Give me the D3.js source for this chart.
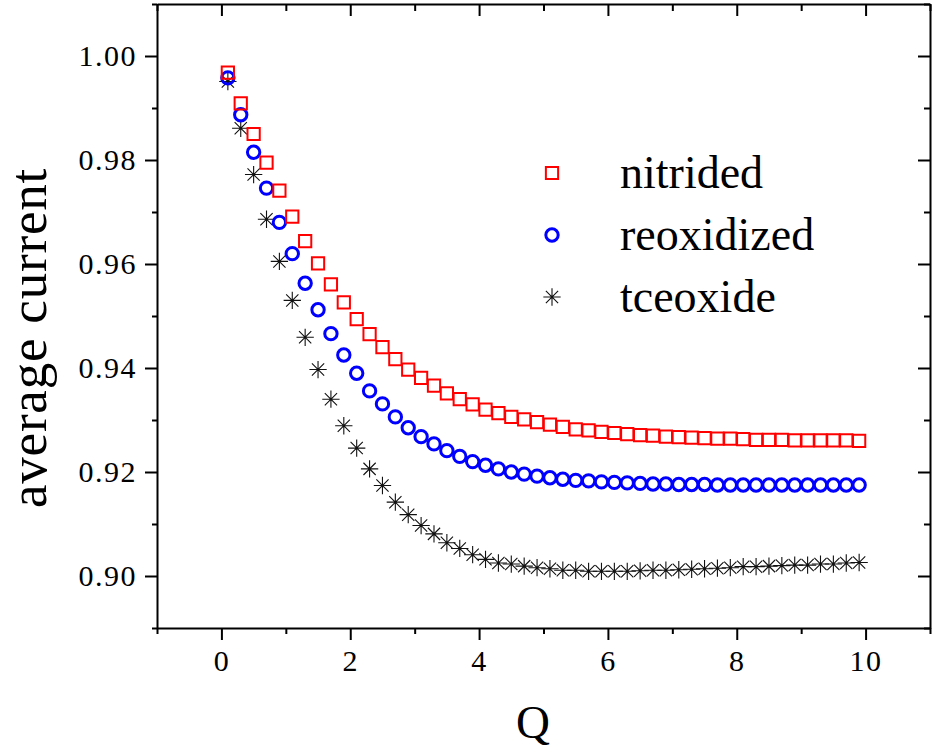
<!DOCTYPE html>
<html>
<head>
<meta charset="utf-8">
<script src="https://cdn.jsdelivr.net/npm/d3@7"></script>
<style>
  body { margin: 0; background: #fff; }
  svg text { font-family: "Liberation Serif", "Times New Roman", serif; fill: #000; }
</style>
</head>
<body>
<div id="chart"></div>
<script>
// Q values 0.1 .. 9.9, step 0.2
const qValues = [0.1, 0.3, 0.5, 0.7, 0.9, 1.1, 1.3, 1.5, 1.7, 1.9,
  2.1, 2.3, 2.5, 2.7, 2.9, 3.1, 3.3, 3.5, 3.7, 3.9,
  4.1, 4.3, 4.5, 4.7, 4.9, 5.1, 5.3, 5.5, 5.7, 5.9,
  6.1, 6.3, 6.5, 6.7, 6.9, 7.1, 7.3, 7.5, 7.7, 7.9,
  8.1, 8.3, 8.5, 8.7, 8.9, 9.1, 9.3, 9.5, 9.7, 9.9];

const nitrided = [0.9968, 0.9909, 0.9850, 0.9795, 0.9741, 0.9691, 0.9644, 0.9601, 0.9561, 0.9526,
  0.9494, 0.9465, 0.9440, 0.9417, 0.9397, 0.9381, 0.9366, 0.9351, 0.9340, 0.9330,
  0.9320, 0.9313, 0.9306, 0.9301, 0.9296, 0.9291, 0.9287, 0.9282, 0.9280, 0.9277,
  0.9275, 0.9273, 0.9271, 0.9270, 0.9268, 0.9267, 0.9266, 0.9265, 0.9264, 0.9264,
  0.9263, 0.9262, 0.9262, 0.9262, 0.9261, 0.9261, 0.9261, 0.9261, 0.9261, 0.9260];

const reoxidized = [0.9958, 0.9887, 0.9815, 0.9746, 0.9680, 0.9620, 0.9563, 0.9512, 0.9466, 0.9425,
  0.9390, 0.9356, 0.9331, 0.9306, 0.9285, 0.9268, 0.9254, 0.9241, 0.9230, 0.9220,
  0.9213, 0.9206, 0.9200, 0.9196, 0.9192, 0.9189, 0.9186, 0.9184, 0.9183, 0.9181,
  0.9180, 0.9179, 0.9178, 0.9177, 0.9177, 0.9176, 0.9176, 0.9176, 0.9175, 0.9175,
  0.9175, 0.9175, 0.9175, 0.9175, 0.9175, 0.9175, 0.9175, 0.9175, 0.9175, 0.9175];

const tceoxide = [0.9951, 0.9861, 0.9772, 0.9686, 0.9605, 0.9530, 0.9459, 0.9397, 0.9340, 0.9289,
  0.9246, 0.9206, 0.9174, 0.9142, 0.9118, 0.9097, 0.9081, 0.9064, 0.9053, 0.9041,
  0.9032, 0.9025, 0.9023, 0.9019, 0.9016, 0.9014, 0.9011, 0.9011, 0.9009, 0.9009,
  0.9009, 0.9009, 0.9010, 0.9011, 0.9011, 0.9012, 0.9013, 0.9014, 0.9015, 0.9016,
  0.9018, 0.9018, 0.9019, 0.9020, 0.9021, 0.9021, 0.9023, 0.9023, 0.9025, 0.9026];

const seriesNames = ["nitrided", "reoxidized", "tceoxide"];
const xMajorTicks = [0, 2, 4, 6, 8, 10];
const xMinorTicks = [-1, 1, 3, 5, 7, 9, 11];
const yMajorTicks = [0.90, 0.92, 0.94, 0.96, 0.98, 1.00];
const yMinorTicks = [0.89, 0.91, 0.93, 0.95, 0.97, 0.99, 1.01];

const width = 932, height = 756;
const plotLeft = 157, plotRight = 930, plotTop = 4, plotBottom = 628;

const svg = d3.select("#chart").append("svg")
    .attr("width", width)
    .attr("height", height);

const x = d3.scaleLinear().domain([-1, 11]).range([plotLeft, plotRight]);
const y = d3.scaleLinear().domain([0.89, 1.01]).range([plotBottom, plotTop]);

// asterisk symbol: 4 crossing strokes
const asterisk = {
  draw(ctx, size) {
    const r = Math.sqrt(size) / 2;
    const d = r * Math.SQRT1_2;
    ctx.moveTo(-r, 0); ctx.lineTo(r, 0);
    ctx.moveTo(0, -r); ctx.lineTo(0, r);
    ctx.moveTo(-d, -d); ctx.lineTo(d, d);
    ctx.moveTo(-d, d); ctx.lineTo(d, -d);
  }
};

const styles = {
  nitrided: {type: d3.symbolSquare, size: 150, stroke: "#ff0000", width: 2},
  reoxidized: {type: d3.symbolCircle, size: 120, stroke: "#0000ff", width: 3},
  tceoxide: {type: asterisk, size: 300, stroke: "#111", width: 1.1}
};

const seriesData = {
  nitrided: qValues.map((q, i) => ({q, v: nitrided[i]})),
  reoxidized: qValues.map((q, i) => ({q, v: reoxidized[i]})),
  tceoxide: qValues.map((q, i) => ({q, v: tceoxide[i]}))
};

seriesNames.slice().reverse().forEach(name => {
  const s = styles[name];
  svg.append("g").selectAll("path")
      .data(seriesData[name])
      .enter().append("path")
      .attr("transform", d => `translate(${x(d.q)},${y(d.v)})`)
      .attr("d", d3.symbol().type(s.type).size(s.size))
      .attr("fill", "none")
      .attr("stroke", s.stroke)
      .attr("stroke-width", s.width);
});

// axes
function styleAxis(g) {
  g.selectAll("path, line").attr("stroke", "#000").attr("stroke-width", 2);
  g.selectAll("text").attr("font-size", 30).attr("letter-spacing", 1.5)
    .style("font-family", "'Liberation Serif', serif");
}

svg.append("g")
    .attr("transform", `translate(0,${plotBottom})`)
    .call(d3.axisBottom(x).tickValues(xMinorTicks).tickSize(6).tickFormat("").tickSizeOuter(0))
    .call(styleAxis);
svg.append("g")
    .attr("transform", `translate(0,${plotBottom})`)
    .call(d3.axisBottom(x).tickValues(xMajorTicks).tickSize(12).tickPadding(10).tickFormat(d3.format("d")))
    .call(styleAxis)
    .call(g => g.select(".domain").remove());

svg.append("g")
    .attr("transform", `translate(0,${plotTop})`)
    .call(d3.axisBottom(x).tickValues(xMinorTicks.concat(xMajorTicks)).tickSizeOuter(0)
      .tickSize(0).tickFormat(""))
    .call(styleAxis)
    .call(g => g.selectAll(".tick line").attr("y2", d => xMajorTicks.includes(d) ? 12 : 7));

svg.append("g")
    .attr("transform", `translate(${plotLeft},0)`)
    .call(d3.axisLeft(y).tickValues(yMinorTicks).tickSize(5).tickFormat("").tickSizeOuter(0))
    .call(styleAxis);
svg.append("g")
    .attr("transform", `translate(${plotLeft},0)`)
    .call(d3.axisLeft(y).tickValues(yMajorTicks).tickSize(12).tickPadding(8).tickFormat(d3.format(".2f")))
    .call(styleAxis)
    .call(g => g.select(".domain").remove());

svg.append("g")
    .attr("transform", `translate(${plotRight},0)`)
    .call(d3.axisLeft(y).tickValues(yMinorTicks.concat(yMajorTicks)).tickSize(0).tickFormat("").tickSizeOuter(0))
    .call(styleAxis)
    .call(g => g.selectAll(".tick line").attr("x2", d => yMajorTicks.includes(d) ? -12 : -6));

// axis titles
svg.append("text")
    .attr("x", 533)
    .attr("y", 738)
    .attr("text-anchor", "middle")
    .attr("font-size", 47)
    .text("Q");

svg.append("text")
    .attr("transform", "translate(46,338) rotate(-90)")
    .attr("text-anchor", "middle")
    .attr("font-size", 53)
    .attr("letter-spacing", 0.8)
    .text("average current");

// legend
const legendY = [173, 235, 297];
const legend = svg.append("g");
seriesNames.forEach((name, i) => {
  const s = styles[name];
  legend.append("path")
      .attr("transform", `translate(552,${legendY[i]})`)
      .attr("d", d3.symbol().type(s.type).size(s.size))
      .attr("fill", "none")
      .attr("stroke", s.stroke)
      .attr("stroke-width", s.width);
  legend.append("text")
      .attr("x", 620)
      .attr("y", legendY[i] + 15)
      .attr("font-size", 46)
      .text(name);
});
</script>
</body>
</html>
